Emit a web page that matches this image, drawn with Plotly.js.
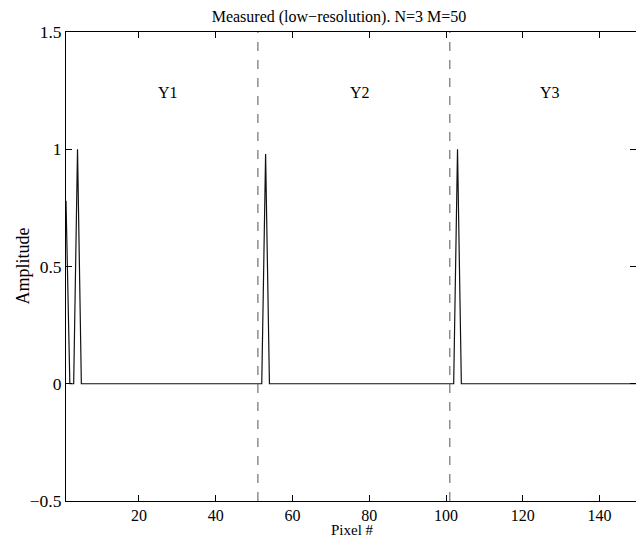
<!DOCTYPE html>
<html>
<head>
<meta charset="utf-8">
<script src="https://cdn.plot.ly/plotly-3.0.1.min.js"></script>
<style>html,body{margin:0;padding:0;background:#fff;}#chart{width:636px;height:541px;}</style>
</head>
<body>
<div id="chart"></div>
<script>
// Pixel index and measured amplitude
const pixels = [];
for (let i = 1; i <= 150; i++) pixels.push(i);
const peakPixels = [1, 4, 53, 103];
const peakValues = [0.78, 1.0, 0.98, 1.0];
const amplitude = pixels.map(p => {
  const k = peakPixels.indexOf(p);
  return k >= 0 ? peakValues[k] : 0;
});
const boundaryPixels = [51, 101];
const regionLabels = ['Y1', 'Y2', 'Y3'];
const regionCenters = [27.5, 77.5, 127];
const regionLabelY = 1.24;
const xTicks = [20, 40, 60, 80, 100, 120, 140];
const yTicks = [-0.5, 0, 0.5, 1, 1.5];
const yTickText = ['\u22120.5', '0', '0.5', '1', '1.5'];

const font = {family: '"Liberation Serif", "Times New Roman", serif', color: '#000'};
const f = s => Object.assign({size: s}, font);

const traces = [{
  x: pixels, y: amplitude, type: 'scatter', mode: 'lines',
  line: {color: '#111', width: 1.2}, hoverinfo: 'skip'
}];

const shapes = boundaryPixels.map(b => ({
  type: 'line', xref: 'x', yref: 'paper', x0: b, x1: b, y0: 0, y1: 1,
  line: {color: '#555', width: 1, dash: 'dash'}
}));

const annotations = regionLabels.map((t, i) => ({
  x: regionCenters[i], y: regionLabelY, xref: 'x', yref: 'y', text: t,
  showarrow: false, font: f(16)
}));
annotations.push({
  x: 0.503, y: 0, xref: 'paper', yref: 'paper', yshift: -29,
  text: 'Pixel #', showarrow: false, xanchor: 'center', yanchor: 'middle', font: f(15)
});
annotations.push({
  x: -0.077, y: 0.5, xref: 'paper', yref: 'paper', text: 'Amplitude', textangle: -90,
  showarrow: false, xanchor: 'center', yanchor: 'middle', font: f(18)
});

const layout = {
  width: 636, height: 541,
  margin: {l: 66, r: 0, t: 32, b: 40},
  paper_bgcolor: '#fff', plot_bgcolor: '#fff',
  showlegend: false,
  font: f(17),
  title: {text: 'Measured (low\u2212resolution). N=3 M=50', x: 0.533, xanchor: 'center', y: 0.97, yanchor: 'middle', font: f(16)},
  xaxis: {
    range: [1, 149.5], tickvals: xTicks, ticktext: xTicks.map(String),
    ticks: 'inside', ticklen: 6, tickcolor: '#000', tickwidth: 1,
    showline: true, linecolor: '#000', linewidth: 1, mirror: 'ticks',
    showgrid: false, zeroline: false,
    tickfont: f(16), ticklabelstandoff: 0
  },
  yaxis: {
    range: [-0.5, 1.5], tickvals: yTicks, ticktext: yTickText,
    ticks: 'inside', ticklen: 6, tickcolor: '#000', tickwidth: 1,
    showline: true, linecolor: '#000', linewidth: 1, mirror: 'ticks',
    showgrid: false, zeroline: false,
    tickfont: f(17.5), ticklabelstandoff: 0
  },
  shapes: shapes,
  annotations: annotations
};

Plotly.newPlot('chart', traces, layout, {staticPlot: true, displayModeBar: false});
</script>
</body>
</html>
